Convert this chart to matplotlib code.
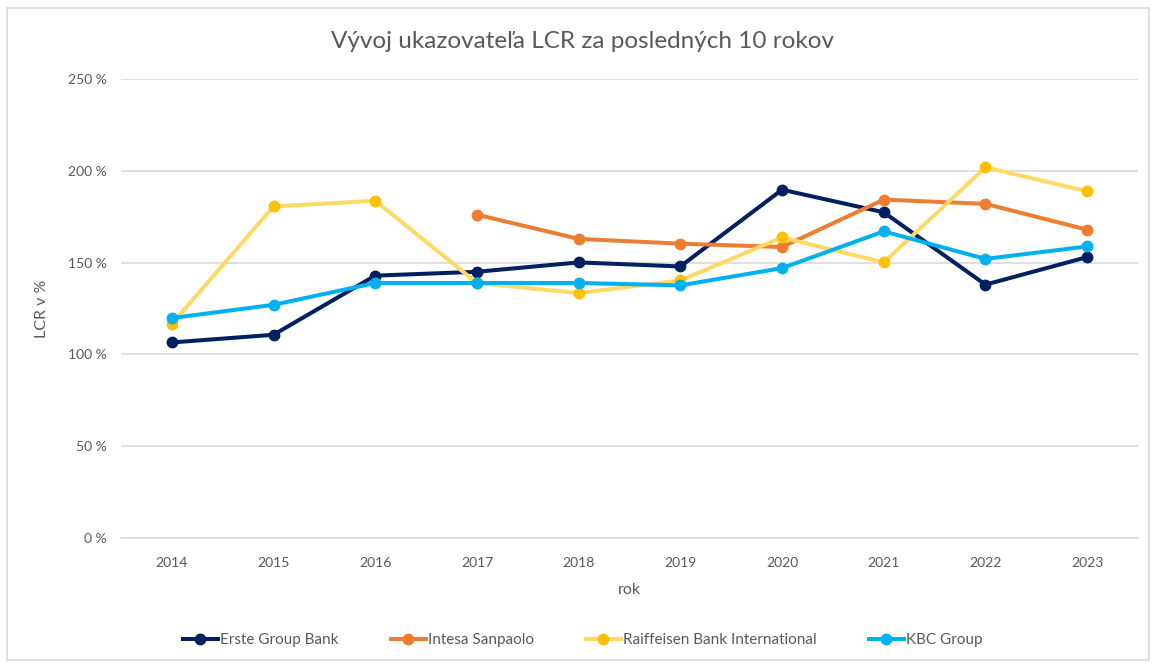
import numpy as np
import matplotlib.pyplot as plt
from matplotlib.patches import Rectangle

years = [2014, 2015, 2016, 2017, 2018, 2019, 2020, 2021, 2022, 2023]
erste = [106.5, 110.7, 142.9, 145.0, 150.1, 147.9, 189.7, 177.4, 138.0, 153.0]
intesa = [np.nan, np.nan, np.nan, 176.1, 162.9, 160.3, 158.5, 184.3, 182.0, 167.9]
raiffeisen = [116.7, 180.6, 183.7, 138.9, 133.4, 140.3, 163.7, 150.1, 201.9, 188.8]
kbc = [119.8, 127.0, 138.9, 138.9, 138.9, 137.6, 147.0, 167.0, 152.0, 158.8]

series = [
    ("Erste Group Bank", erste, "#002060", "#002060"),
    ("Intesa Sanpaolo", intesa, "#ED7D31", "#ED7D31"),
    ("Raiffeisen Bank International", raiffeisen, "#FFD966", "#FFC000"),
    ("KBC Group", kbc, "#00B0F0", "#00B0F0"),
]

plt.rcParams['font.family'] = ['Lato', 'DejaVu Sans']

fig = plt.figure(figsize=(11.54, 6.66), dpi=100)
ax = fig.add_axes([121 / 1154, 1 - 538 / 666, (1138 - 121) / 1154, (538 - 79) / 666])

x = np.arange(len(years))
for name, vals, lc, mc in series:
    ax.plot(x, vals, color=lc, lw=2.9, marker='o', ms=7.5,
            markerfacecolor=mc, markeredgecolor=mc, label=name)

ax.set_xlim(-0.5, len(years) - 0.5)
ax.set_ylim(0, 250)
ax.set_yticks(range(0, 251, 50))
ax.set_yticklabels([f"{v} %" for v in range(0, 251, 50)])
ax.set_xticks(x)
ax.set_xticklabels([str(y) for y in years])
ax.tick_params(length=0, labelsize=10, colors='#595959', pad=10)
ax.tick_params(axis='x', pad=14)
ax.grid(axis='y', color='#D9D9D9', lw=1.2)
ax.set_axisbelow(True)
for s in ['left', 'right', 'top']:
    ax.spines[s].set_visible(False)
ax.spines['bottom'].set_color('#D9D9D9')
ax.spines['bottom'].set_linewidth(1.2)

ax.set_xlabel("rok", fontsize=11.5, color='#595959', labelpad=10)
ax.set_ylabel("LCR v %", fontsize=11.5, color='#595959', labelpad=14)
fig.text(0.505, 1 - 42 / 666, "Vývoj ukazovateľa LCR za posledných 10 rokov",
         fontsize=17.5, color='#595959', ha='center', va='center')

ax.legend(loc='center', bbox_to_anchor=(0.505, 1 - 640 / 666), bbox_transform=fig.transFigure,
          ncol=4, frameon=False, fontsize=11, labelcolor='#595959',
          handlelength=2.3, handletextpad=0.15, columnspacing=3.4)

fig.patches.append(Rectangle((7 / 1154, 6 / 666), 1142 / 1154, 652 / 666,
                             transform=fig.transFigure, fill=False,
                             edgecolor='#D9D9D9', lw=1.2))

fig.savefig("out.png", dpi=100, facecolor='white')
